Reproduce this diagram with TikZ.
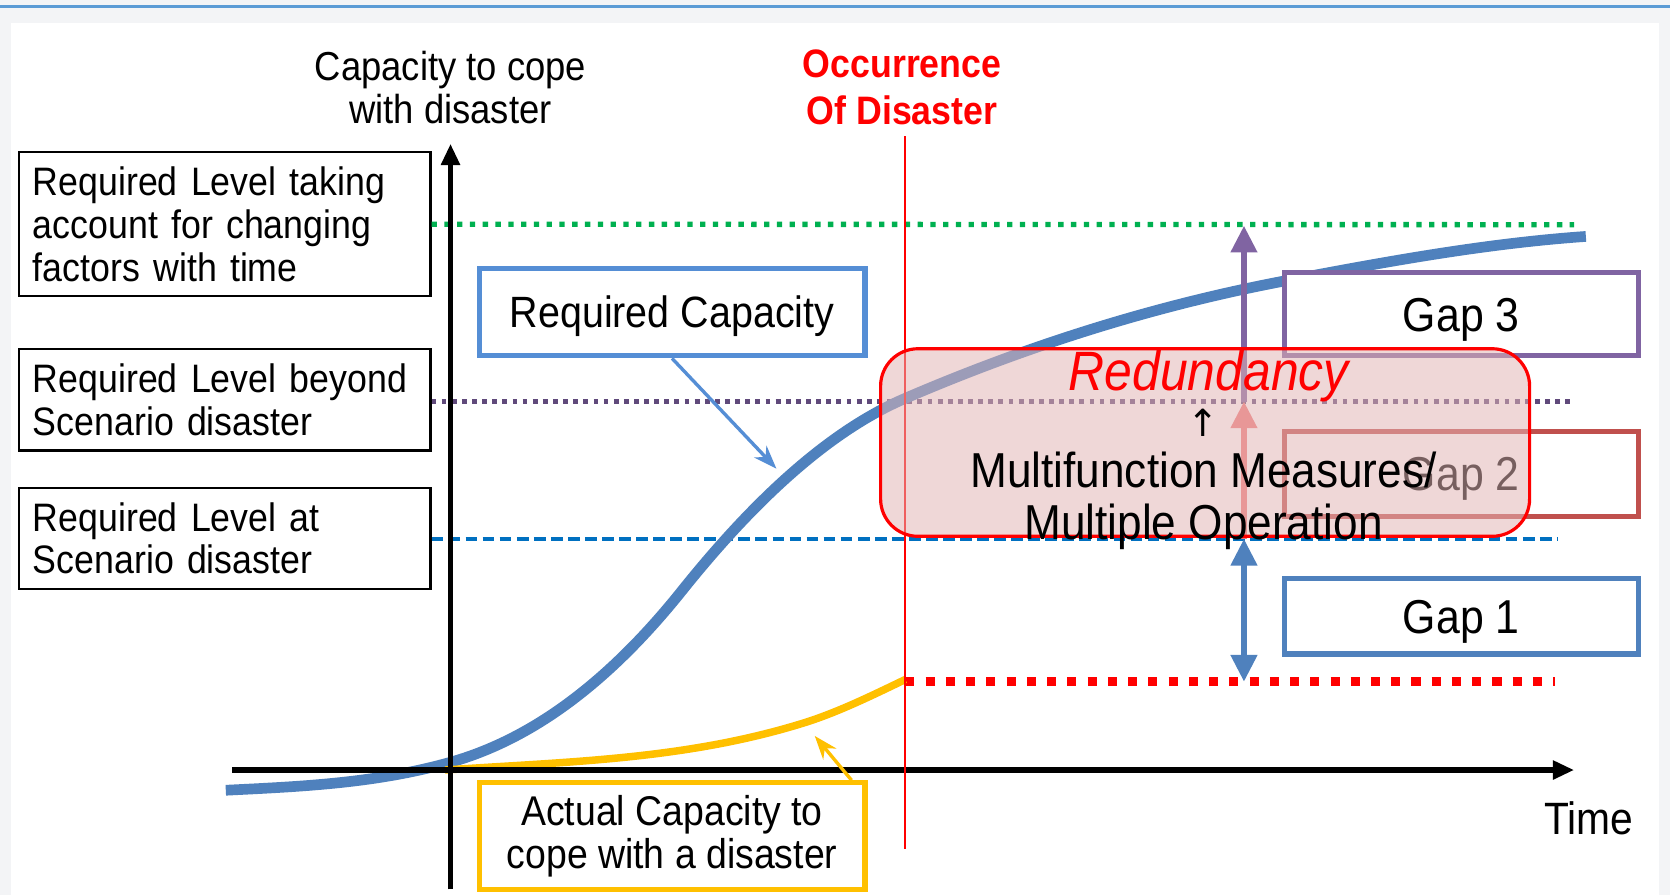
\documentclass[tikz,border=0pt]{standalone}
\usepackage{fontspec}
\setmainfont[FakeStretch=0.9]{Liberation Sans}
\newfontfamily\arrowfont{DejaVu Sans}
\usetikzlibrary{positioning, shapes.geometric, arrows.meta}
\hyphenpenalty=10000
\exhyphenpenalty=10000
\definecolor{framegrey}{HTML}{F3F4F6}
\definecolor{topblue}{HTML}{5B9BD5}
\definecolor{capblue}{HTML}{4F81BD}
\definecolor{rcapblue}{HTML}{558ED5}
\definecolor{actyellow}{HTML}{FFC000}
\definecolor{lvlgreen}{HTML}{00B050}
\definecolor{lvlpurple}{HTML}{604A7B}
\definecolor{lvlblue}{HTML}{0070C0}
\definecolor{gappurple}{HTML}{8064A2}
\definecolor{gapred}{HTML}{C0504D}
\definecolor{gaplight}{HTML}{F07878}
\definecolor{redundfill}{RGB}{226,180,180}
\tikzset{
    lvlbox/.style={rectangle, draw=black, line width=0.6pt, text width=3.6cm, inner xsep=0.13cm, inner ysep=0pt, align=left, font=\fontsize{10.6}{11.4}\selectfont},
    callout/.style={rectangle, line width=1.4pt, fill=white, minimum width=3.62cm, align=center},
    gapbox/.style={rectangle, line width=1.4pt, fill=white, minimum width=3.32cm, text height=0.32cm, text depth=0cm, font=\fontsize{12.7}{14}\selectfont},
    level/.style={line width=0.05cm, dash pattern=on 0.05cm off 0.07cm},
    axis/.style={line width=1.4pt, -{Triangle[length=0.2cm, width=0.17cm]}},
    gaparrow/.style={line width=1.5pt, >={Triangle[length=0.25cm, width=0.24cm]}},
    pointer/.style={line width=0.9pt, -{Stealth[length=0.22cm, width=0.16cm]}},
}

\begin{document}
\begin{tikzpicture}[x=0.01cm, y=-0.01cm]
                        \useasboundingbox (0,0) rectangle (1568,840);
                        \fill[framegrey] (0,0) rectangle (1568,840);
                        \fill[white] (10,22) rectangle (1558,840);
                        \draw[topblue, line width=0.6pt] (0,6) -- (1568,6);
                        \node [lvlbox, minimum height=1.35cm] (req3) at (211,210.5) {Required Level taking\\account for changing\\factors with time};
                        \node [lvlbox, minimum height=0.95cm] (req2) at (211,375.5) {Required Level beyond\\Scenario disaster};
                        \node [lvlbox, minimum height=0.95cm] (req1) at (211,505.5) {Required Level at\\Scenario disaster};
                        \coordinate (ybot) at (423,835);
                        \coordinate (ytop) at (423,135);
                        \coordinate (xbeg) at (218,723);
                        \coordinate (xend) at (1478,723);
                        \coordinate (l3end) at (1478,211);
                        \coordinate (l2end) at (1478,377);
                        \coordinate (l1end) at (1462,506);
                        \coordinate (dtop) at (850,128);
                        \coordinate (dbot) at (850,797);
                        \coordinate (now) at (850,640);
                        \coordinate (nowend) at (1460,640);
                        \coordinate (rtip) at (729,440);
                        \coordinate (ytip) at (765,691);
                        \coordinate (g3top) at (1168,212);
                        \coordinate (g3bot) at (1168,377);
                        \coordinate (g2bot) at (1168,506);
                        \coordinate (g1bot) at (1168,640);
                        \draw[level, lvlgreen] (req3.east) -- (l3end);
                        \draw[level, lvlpurple, dash pattern=on 0.045cm off 0.05cm] (req2.east |- l2end) -- (l2end);
                        \draw[lvlblue, line width=0.03cm, dash pattern=on 0.11cm off 0.05cm] (req1.east |- l1end) -- (l1end);
                        \draw[red, line width=0.085cm, dash pattern=on 0.085cm off 0.105cm] (now) -- (nowend);
                        \draw[capblue, line width=2.85pt] (212,742) .. controls (282,738.5) and (352,735.6) .. (422,716) .. controls (494.7,695.7) and (567.3,645.8) .. (640,555) .. controls (710,467.5) and (780,404) .. (850,374) .. controls (968.3,323.1) and (1086.7,286.5) .. (1205,264) .. controls (1299.7,246) and (1394.3,228.6) .. (1489,222);
                        \draw[actyellow, line width=2pt] (418,723) .. controls (530,715.2) and (642,713.7) .. (754,679) .. controls (786,669.1) and (818,653.4) .. (850,638);
                        \draw[axis] (ybot) -- (ytop);
                        \draw[axis] (xbeg) -- (xend);
                        \draw[red, line width=0.6pt] (dtop) -- (dbot);
                        \node [align=center, font=\fontsize{10.8}{11.4}\selectfont] (ylabel) at (423,82) {Capacity to cope\\with disaster};
                        \node [align=center, text=red, font=\bfseries\fontsize{10.6}{12.5}\selectfont] (occur) at (847,82) {Occurrence\\Of Disaster};
                        \node [font=\fontsize{12.1}{13}\selectfont] (time) at (1492,768) {Time};
                        \node [callout, draw=rcapblue, minimum height=0.82cm, text height=0.295cm, text depth=0cm, font=\fontsize{11.7}{13}\selectfont] (rcap) at (631,293) {Required Capacity};
                        \node [callout, draw=actyellow, minimum height=0.96cm, font=\fontsize{11.1}{11.4}\selectfont] (actual) at (631,785) {Actual Capacity to\\cope with a disaster};
                        \draw[pointer, rcapblue] (rcap.south) -- (rtip);
                        \draw[pointer, actyellow] ([xshift=-0.15cm]actual.north east) -- (ytip);
                        \node [gapbox, draw=gappurple, minimum height=0.78cm] (gap3) at (1372,295) {Gap 3};
                        \node [gapbox, draw=gapred, minimum height=0.8cm] (gap2) at (1372,445) {Gap 2};
                        \node [gapbox, draw=capblue, minimum height=0.71cm] (gap1) at (1372,578.5) {Gap 1};
                        \draw[gaparrow, ->, gappurple] (g3bot) -- (g3top);
                        \draw[gaparrow, ->, gaplight] (g2bot) -- (g3bot);
                        \draw[gaparrow, <->, capblue] (g1bot) -- (g2bot);
                        \node [rectangle, rounded corners=0.35cm, draw=red, line width=0.85pt, fill=redundfill, fill opacity=0.53, draw opacity=1, minimum width=6.09cm, minimum height=1.76cm] (redund) at (1131.5,415.5) {};
                        \node [text=red, font=\itshape\fontsize{14.8}{16}\selectfont] (redtitle) at (1135,353) {Redundancy};
                        \node [font=\arrowfont\fontsize{10}{12}\selectfont] (uparrow) at (1130,397) {↑};
                        \node [align=center, font=\fontsize{13.1}{13.9}\selectfont] (multi) at (1130,470) {Multifunction Measures/\\Multiple Operation};
                    \end{tikzpicture}
\end{document}
